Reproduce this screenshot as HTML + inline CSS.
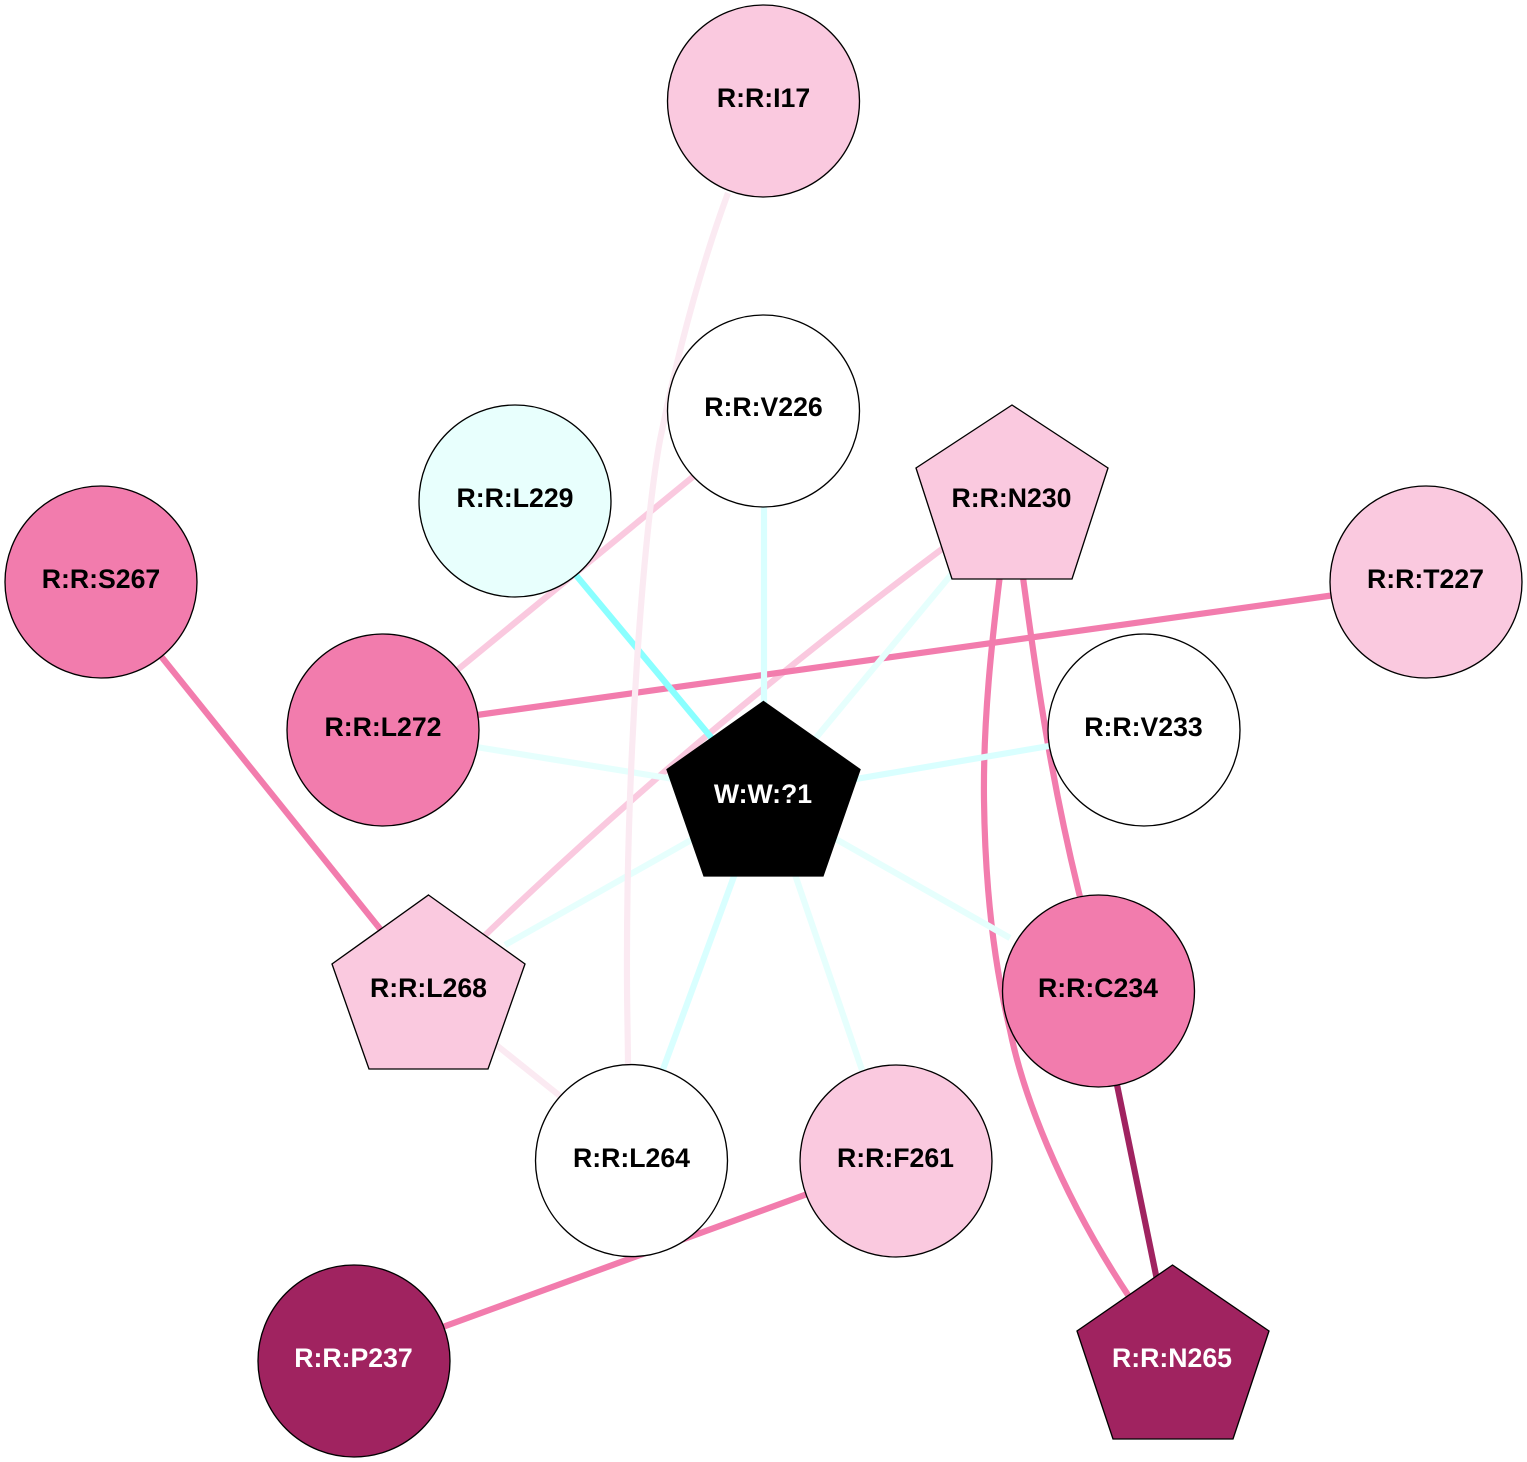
<!DOCTYPE html>
<html><head><meta charset="utf-8"><style>
html,body{margin:0;padding:0;background:#fff}
svg{display:block}
text{font-family:"Liberation Sans",sans-serif;font-weight:bold;font-size:26.67px;text-anchor:middle}
.n{stroke:#000;stroke-width:1.33}
.e{fill:none;stroke-width:6.2}
</style></head><body>
<svg width="1527" height="1462" viewBox="0 0 1527 1462" xmlns="http://www.w3.org/2000/svg">
<rect width="1527" height="1462" fill="#fff"/>
<!-- edges -->
<path class="e" stroke="#fac9df" d="M700 471L450 676"/>
<path class="e" stroke="#fac9df" d="M950 543C800 655 640 785 475 945"/>
<path class="e" stroke="#f27cad" d="M160 655L385 935"/>
<path class="e" stroke="#f27cad" d="M1335 595L470 716"/>
<path class="e" stroke="#f27cad" d="M1022 570C1038 690 1053 790 1082 905"/>
<path class="e" stroke="#f27cad" d="M1000 575C992 640 983 720 984 800C985 880 993 960 1010 1030C1022 1090 1058 1190 1130 1298"/>
<path class="e" stroke="#a02360" d="M1115 1075C1130 1150 1145 1220 1157 1280"/>
<path class="e" stroke="#f27cad" d="M810 1193L440 1328"/>
<path class="e" stroke="#d9ffff" d="M764 500L764 710"/>
<path class="e" stroke="#e6fffd" d="M470 746L680 780"/>
<path class="e" stroke="#e6fffd" d="M955 570L810 745"/>
<path class="e" stroke="#d9ffff" d="M850 780L1055 745"/>
<path class="e" stroke="#e6fffd" d="M820 830L1010 938"/>
<path class="e" stroke="#e6fffd" d="M790 860L862 1070"/>
<path class="e" stroke="#d9ffff" d="M740 860L662 1072"/>
<path class="e" stroke="#e6fffd" d="M700 835L505 945"/>
<path class="e" stroke="#8affff" d="M570 568L715 742"/>
<path class="e" stroke="#fbeaf2" d="M490 1040L565 1100"/>
<path class="e" stroke="#fbeaf2" d="M728 193C705 255 680 340 660 440C645 520 626 750 627 980C627 1010 628 1040 628 1068"/>
<!-- nodes -->
<circle class="n" cx="763.500" cy="101" r="96" fill="#fac9df"/>
<text x="763.500" y="107" fill="#000">R:R:I17</text>
<circle class="n" cx="763.500" cy="411" r="96" fill="#fff"/>
<text x="763.500" y="416" fill="#000">R:R:V226</text>
<circle class="n" cx="515" cy="501" r="96" fill="#e8fffd"/>
<text x="515" y="507" fill="#000">R:R:L229</text>
<polygon class="n" points="1012,405 1108,468 1072,579 952,579 916,468" fill="#fac9df"/>
<text x="1011.500" y="507" fill="#000">R:R:N230</text>
<circle class="n" cx="101" cy="582" r="96" fill="#f27cad"/>
<text x="101" y="588" fill="#000">R:R:S267</text>
<circle class="n" cx="1426" cy="582" r="96" fill="#fac9df"/>
<text x="1425.500" y="588" fill="#000">R:R:T227</text>
<circle class="n" cx="383" cy="730" r="96" fill="#f27cad"/>
<text x="383" y="736" fill="#000">R:R:L272</text>
<circle class="n" cx="1144" cy="730" r="96" fill="#fff"/>
<text x="1143.500" y="736" fill="#000">R:R:V233</text>
<polygon class="n" points="763.500,701.500 860,769.500 823,876 704,876 667,769.500" fill="#000"/>
<text x="763" y="803" fill="#fff">W:W:?1</text>
<polygon class="n" points="428.500,895 525,964 488,1069 369,1069 332,964" fill="#fac9df"/>
<text x="428.500" y="997" fill="#000">R:R:L268</text>
<circle class="n" cx="1098.500" cy="991" r="96" fill="#f27cad"/>
<text x="1098" y="997" fill="#000">R:R:C234</text>
<circle class="n" cx="631.500" cy="1160.600" r="96" fill="#fff"/>
<text x="631.500" y="1167" fill="#000">R:R:L264</text>
<circle class="n" cx="896" cy="1161" r="96" fill="#fac9df"/>
<text x="895.500" y="1167" fill="#000">R:R:F261</text>
<circle class="n" cx="354" cy="1361" r="96" fill="#a02360"/>
<text x="353.500" y="1367" fill="#fff">R:R:P237</text>
<polygon class="n" points="1172.500,1265 1269,1331 1233,1439 1113,1439 1077,1331" fill="#a02360"/>
<text x="1172" y="1367" fill="#fff">R:R:N265</text>
</svg>
</body></html>
